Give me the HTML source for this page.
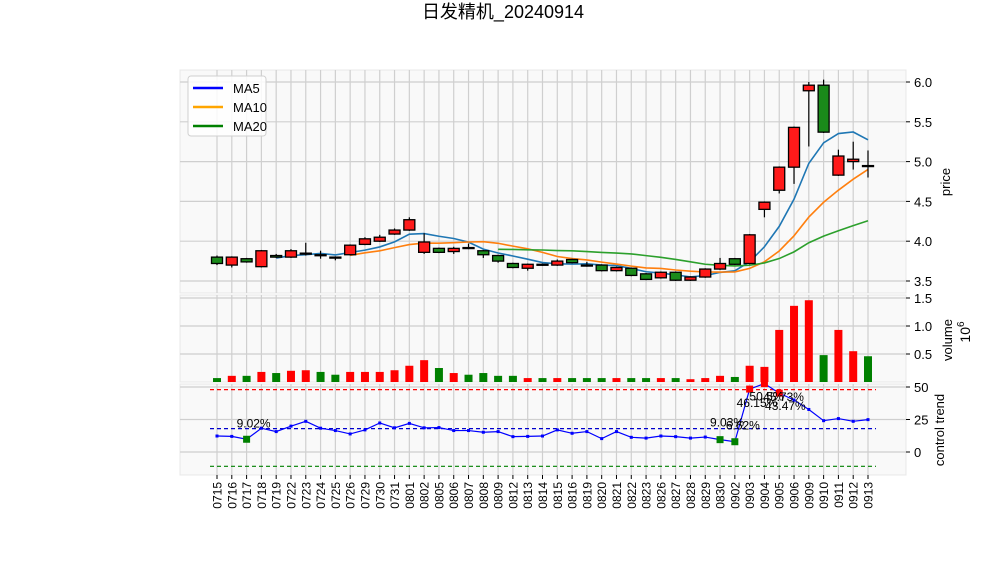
<!DOCTYPE html>
<html><head><meta charset="utf-8"><style>
body{margin:0;background:#fff;}
svg text{font-family:"Liberation Sans","Noto Sans CJK SC",sans-serif;}
</style></head><body>
<svg id="c" width="1006" height="575" xmlns="http://www.w3.org/2000/svg">
<text x="503" y="18" text-anchor="middle" font-size="18" fill="#000">日发精机_20240914</text>
</svg>
<script>
const dates=["0715","0716","0717","0718","0719","0722","0723","0724","0725","0726","0729","0730","0731","0801","0802","0805","0806","0807","0808","0809","0812","0813","0814","0815","0816","0819","0820","0821","0822","0823","0826","0827","0828","0829","0830","0902","0903","0904","0905","0906","0909","0910","0911","0912","0913"];
const opens=[3.80,3.70,3.78,3.68,3.82,3.80,3.84,3.83,3.80,3.83,3.96,4.00,4.09,4.14,3.86,3.91,3.87,3.92,3.88,3.82,3.72,3.66,3.71,3.70,3.77,3.70,3.70,3.63,3.66,3.59,3.54,3.61,3.51,3.55,3.65,3.78,3.72,4.40,4.64,4.93,5.89,5.96,4.83,5.00,4.95];
const closes=[3.72,3.80,3.74,3.88,3.80,3.88,3.85,3.82,3.79,3.95,4.03,4.05,4.14,4.27,3.99,3.86,3.91,3.91,3.83,3.75,3.67,3.71,3.70,3.75,3.73,3.69,3.63,3.67,3.57,3.52,3.61,3.51,3.55,3.65,3.72,3.71,4.08,4.49,4.93,5.43,5.96,5.37,5.07,5.03,4.94];
const highs=[3.82,3.81,3.79,3.89,3.84,3.90,3.98,3.88,3.81,3.96,4.05,4.08,4.16,4.30,4.10,3.92,3.93,3.97,3.89,3.83,3.73,3.72,3.72,3.77,3.78,3.74,3.71,3.68,3.67,3.60,3.62,3.62,3.56,3.66,3.79,3.79,4.09,4.50,4.94,5.44,6.00,6.03,5.15,5.25,5.14];
const lows=[3.70,3.67,3.73,3.67,3.79,3.79,3.82,3.78,3.76,3.82,3.95,3.99,4.08,4.13,3.84,3.85,3.84,3.90,3.79,3.73,3.66,3.63,3.69,3.69,3.72,3.68,3.62,3.62,3.56,3.51,3.53,3.50,3.50,3.54,3.64,3.70,3.71,4.30,4.60,4.72,5.19,5.36,4.82,4.90,4.80];
const volumes=[0.07,0.11,0.11,0.18,0.16,0.20,0.21,0.18,0.13,0.18,0.18,0.18,0.21,0.29,0.39,0.25,0.16,0.13,0.16,0.11,0.11,0.07,0.07,0.07,0.07,0.07,0.07,0.07,0.07,0.07,0.07,0.07,0.05,0.07,0.11,0.09,0.29,0.27,0.93,1.36,1.46,0.48,0.93,0.55,0.46];
const trend=[12.3,12,9.8,18.3,15.7,19.9,23.6,18.3,16.5,13.9,17,22.3,18.6,22,18.6,18.8,16.5,16.5,15.2,15.7,11.8,12,12.3,17,14.4,15.7,10.3,15.7,11.3,10.7,12.3,11.8,10.7,11.5,9.5,7.9,48.4,52.6,45.3,40,32.7,24.1,25.7,23.6,24.9];
const trendLabels=[[2,"9.02%",-10,-12],[34,"9.03%",-10,-13],[35,"6.62%",-9,-12],[36,"46.15%",-13,18],[37,"50.5%",-15,17],[38,"45.73%",-16,8],[39,"43.47%",-29,10]];
const priceTicks=[3.5,4.0,4.5,5.0,5.5,6.0];
const volTicks=[0.5,1.0,1.5];
const trendTicks=[0,25,50];
const upper=48,mid=18,lower=-11;

const NS="http://www.w3.org/2000/svg";
const svg=document.getElementById('c');
function mk(t,a,p){const e=document.createElementNS(NS,t);for(const k in a)e.setAttribute(k,a[k]);(p||svg).appendChild(e);return e;}
const X0=180,X1=906;
const xs=i=>217+i*(868-217)/(dates.length-1);
const yP=p=>82+(6-p)*79.6;
const yV=v=>382-v*56;
const yT=v=>452-v*1.3;
const panels=[["price-panel",70,293],["volume-panel",295,382],["trend-panel",384,475]];
panels.forEach(p=>{let r=mk('rect',{x:X0,y:p[1],width:X1-X0,height:p[2]-p[1],fill:'#f9f9f9',stroke:'#e8e8e8'});


dates.forEach((d,i)=>{mk('line',{x1:xs(i),x2:xs(i),y1:p[1],y2:p[2],stroke:'#cfcfcf','stroke-width':1.2});});});
function yGrid(ticks,f,fmt,name){ticks.forEach(t=>{const y=f(t);
mk('line',{x1:X0,x2:X1,y1:y,y2:y,stroke:'#cfcfcf','stroke-width':1.2});
mk('line',{x1:X1,x2:X1+4,y1:y,y2:y,stroke:'#000'});
const tx=mk('text',{x:X1+8,y:y+5,'font-size':13});tx.textContent=fmt(t);

});}
yGrid(priceTicks,yP,t=>t.toFixed(1),'price-tick-label');
yGrid(volTicks,yV,t=>t.toFixed(1),'volume-tick-label');
yGrid(trendTicks,yT,t=>String(t),'trend-tick-label');
function ma(n){return closes.map((c,i)=>{if(i<n-1)return null;let s=0;for(let k=i-n+1;k<=i;k++)s+=closes[k];return s/n;});}
[[5,'#1f77b4','ma5-line'],[10,'#ff7f0e','ma10-line'],[20,'#2ca02c','ma20-line']].forEach(m=>{const v=ma(m[0]);let d='';v.forEach((a,i)=>{if(a!==null)d+=(d?'L':'M')+xs(i)+','+yP(a);});
const p=mk('path',{d:d,fill:'none',stroke:m[1],'stroke-width':1.6});

});
dates.forEach((d,i)=>{const up=closes[i]>=opens[i];const col=up?'#ff1a1a':'#1a8a1a';const x=xs(i);
const g=mk('g',{});


mk('line',{x1:x,x2:x,y1:yP(highs[i]),y2:yP(lows[i]),stroke:'#000','stroke-width':1.2},g);
const t=yP(Math.max(opens[i],closes[i])),b=yP(Math.min(opens[i],closes[i]));
mk('rect',{x:x-5.5,y:t,width:11,height:Math.max(b-t,1),fill:col,stroke:'#000','stroke-width':1.3},g);
const vb=mk('rect',{x:x-4,y:yV(volumes[i]),width:8,height:382-yV(volumes[i]),fill:up?'#ff0000':'#008000'});


const lb=mk('text',{transform:`translate(${x+4.5},${482}) rotate(-90)`,'text-anchor':'end','font-size':12});lb.textContent=d;


mk('line',{x1:x,x2:x,y1:475,y2:479,stroke:'#000'});
});
[[upper,'#ff0000','upper-threshold'],[mid,'#0000cc','mid-threshold'],[lower,'#008000','lower-threshold']].forEach(l=>{const e=mk('line',{x1:X0+30,x2:X1-30,y1:yT(l[0]),y2:yT(l[0]),stroke:l[1],'stroke-dasharray':'4,3','stroke-width':1.2});

});
let td='';trend.forEach((v,i)=>{td+=(i?'L':'M')+xs(i)+','+yT(v);});
const tl=mk('path',{d:td,fill:'none',stroke:'#0000ff','stroke-width':1.2});


trend.forEach((v,i)=>{let c='#0000ff',s=3;if(v>45){c='#ff0000';s=7;}else if(v<10){c='#008000';s=7;}
mk('rect',{x:xs(i)-s/2,y:yT(v)-s/2,width:s,height:s,fill:c});});
trendLabels.forEach(l=>{const t=mk('text',{x:xs(l[0])+l[2],y:yT(trend[l[0]])+l[3],'font-size':12});t.textContent=l[1];

});
[["price",950,182,'price-axis-title'],["volume",952,340,'volume-axis-title'],["control trend",944,430,'trend-axis-title']].forEach(a=>{const t=mk('text',{transform:`translate(${a[1]},${a[2]}) rotate(-90)`,'text-anchor':'middle','font-size':13});t.textContent=a[0];

});
const sc=mk('text',{transform:'translate(970,332) rotate(-90)','text-anchor':'middle','font-size':14});sc.innerHTML='10<tspan dy="-6" font-size="10">6</tspan>';


const lg=mk('g',{});


mk('rect',{x:188,y:76,width:78,height:60,rx:3,fill:'#fff','fill-opacity':0.85,stroke:'#d0d0d0'},lg);
[["MA5","#0000ff"],["MA10","#ffa500"],["MA20","#008000"]].forEach((e,i)=>{const y=88+i*19;
mk('line',{x1:193,x2:223,y1:y,y2:y,stroke:e[1],'stroke-width':2.5},lg);
const t=mk('text',{x:233,y:y+5,'font-size':13},lg);t.textContent=e[0];

});
</script>
</body></html>
